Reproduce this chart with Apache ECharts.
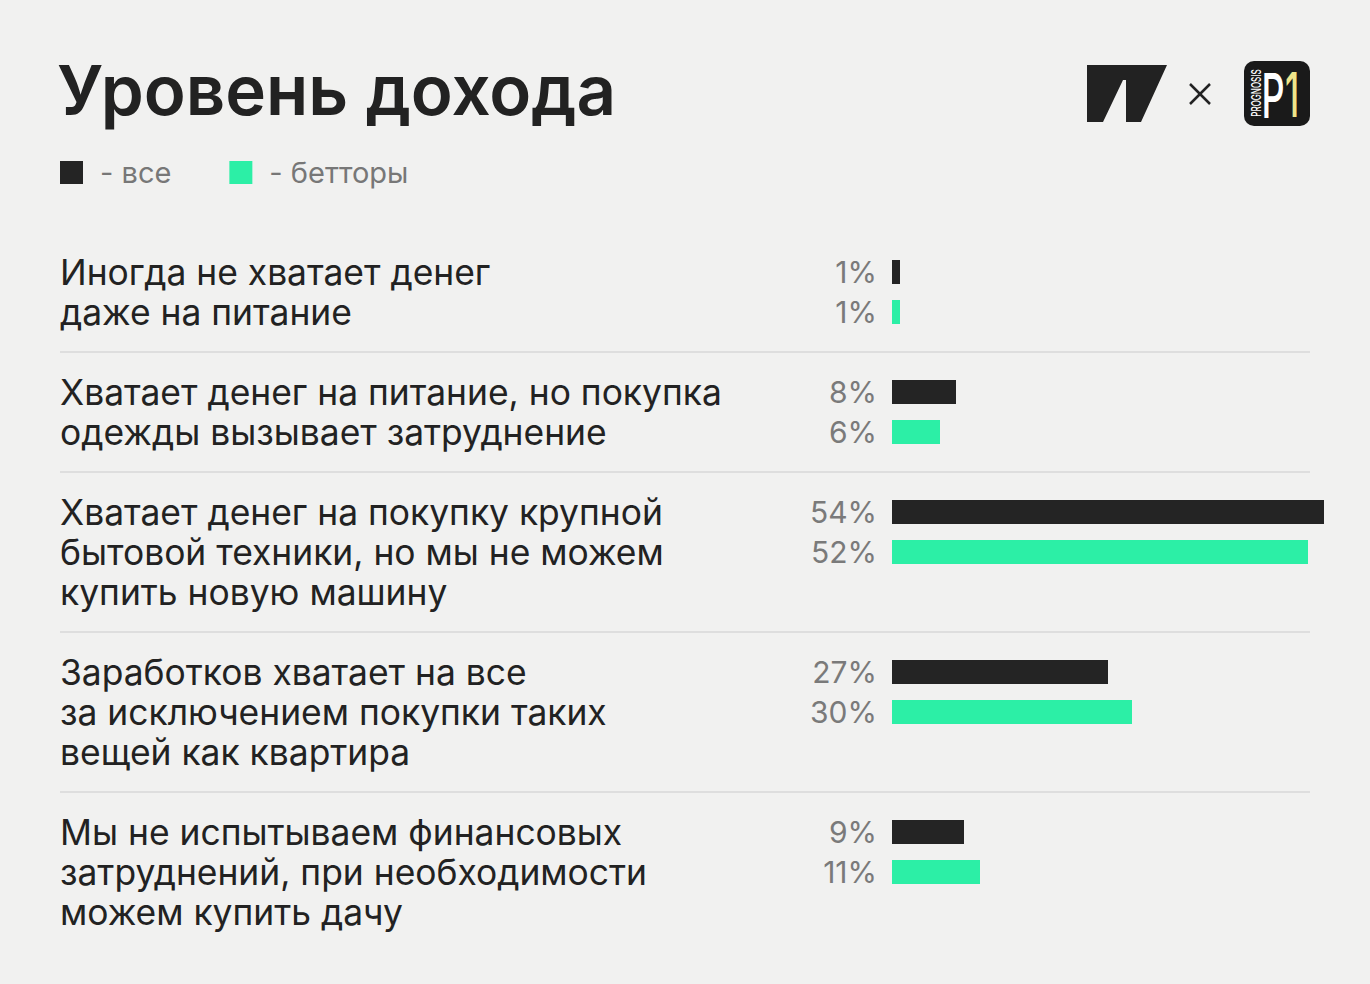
<!DOCTYPE html>
<html>
<head>
<meta charset="utf-8">
<style>
html,body{margin:0;padding:0;background:#f1f1f0;}
#chart{width:1370px;height:984px;}
</style>
<script src="https://cdn.jsdelivr.net/npm/echarts@6.0.0/dist/echarts.min.js"></script>
</head>
<body>
<div id="chart"></div>
<script>
const categories = [
  "Иногда не хватает денег\nдаже на питание",
  "Хватает денег на питание, но покупка\nодежды вызывает затруднение",
  "Хватает денег на покупку крупной\nбытовой техники, но мы не можем\nкупить новую машину",
  "Заработков хватает на все\nза исключением покупки таких\nвещей как квартира",
  "Мы не испытываем финансовых\nзатруднений, при необходимости\nможем купить дачу"
];
const allValues = [1, 8, 54, 27, 9];
const bettorValues = [1, 6, 52, 30, 11];
const seriesNames = ["все", "бетторы"];
const titleText = "Уровень дохода";

// layout: each group gets one 40px slot per text line (min 2) plus one slot for the separator
const blackSlot = [], sepSlots = [], labelAt = {};
let slot = 0;
categories.forEach((c, i) => {
  const lines = c.split("\n").length;
  blackSlot.push(slot);
  labelAt[slot] = i;
  const span = Math.max(lines, 2) + 1;
  if (i < categories.length - 1) sepSlots.push(slot + span - 1);
  slot += span;
});
const totalSlots = slot;
const slotNames = Array.from({length: totalSlots}, (_, k) => "s" + k);
const blackData = slotNames.map(() => "-");
const greenData = slotNames.map(() => "-");
blackSlot.forEach((s, i) => { blackData[s] = allValues[i]; greenData[s + 1] = bettorValues[i]; });

const chart = echarts.init(document.getElementById("chart"), null, {renderer: "svg"});
const FONT = "Inter";
const option = {
  backgroundColor: "#f1f1f0",
  animation: false,
  title: {
    text: titleText, left: 57, top: 55, padding: 0,
    textStyle: {fontFamily: FONT, fontSize: 69, fontWeight: 600, color: "#222222"}
  },
  legend: {
    data: seriesNames, left: 60, top: 158, padding: 0,
    itemWidth: 23, itemHeight: 23, itemGap: 58, icon: "rect",
    formatter: "- {name}",
    textStyle: {fontFamily: FONT, fontSize: 29, color: "#777777", padding: [0, 0, 0, 12]}
  },
  grid: {left: 60, width: 1250, top: 252, height: totalSlots * 40},
  xAxis: {type: "value", min: -104, max: 52.25, show: false, splitLine: {show: false}},
  yAxis: {
    type: "category", data: slotNames, inverse: true,
    axisLine: {show: false, onZero: false}, axisTick: {show: false}, splitLine: {show: false},
    axisLabel: {
      interval: 0, margin: 0, align: "left", verticalAlign: "middle",
      fontFamily: FONT, fontSize: 35.4, lineHeight: 40, color: "#222222",
      formatter: (v, idx) => {
        if (labelAt[idx] === undefined) return "";
        const t = categories[labelAt[idx]];
        const n = t.split("\n").length;
        return "\n".repeat(n - 1) + t;
      }
    }
  },
  series: [
    {
      name: seriesNames[0], type: "bar", data: blackData, barWidth: 24, barGap: "-100%",
      clip: false, itemStyle: {color: "#242424"},
      label: {show: true, position: "left", distance: 15, formatter: "{c}%",
        fontFamily: FONT, fontSize: 30, color: "#7a7a7a"},
      markLine: {
        silent: true, symbol: ["none", "none"], label: {show: false},
        lineStyle: {color: "#dedede", width: 2, type: "solid"},
        data: sepSlots.map(s => ({yAxis: "s" + s}))
      }
    },
    {
      name: seriesNames[1], type: "bar", data: greenData, barWidth: 24, barGap: "-100%",
      clip: false, itemStyle: {color: "#2cefa6"},
      label: {show: true, position: "left", distance: 15, formatter: "{c}%",
        fontFamily: FONT, fontSize: 30, color: "#7a7a7a"}
    }
  ],
  graphic: [
    {type: "polygon", shape: {points: [[1087,65],[1167,65],[1141,122],[1126,122],[1126,80],[1123,80],[1103,122],[1087,122]]},
      style: {fill: "#222222"}},
    {type: "line", shape: {x1: 1190, y1: 84, x2: 1210, y2: 104}, style: {stroke: "#222222", lineWidth: 2.5}},
    {type: "line", shape: {x1: 1210, y1: 84, x2: 1190, y2: 104}, style: {stroke: "#222222", lineWidth: 2.5}},
    {type: "rect", shape: {x: 1244, y: 61, width: 66, height: 65, r: 10}, style: {fill: "#1a1a1a"}},
    {type: "text", x: 1257, y: 93, rotation: Math.PI / 2, scaleX: 0.62,
      style: {text: "PROGNOSIS", fill: "#ffffff", fontFamily: FONT, fontSize: 13, fontWeight: 500,
        align: "center", verticalAlign: "middle"}},
    {type: "text", x: 1273, y: 95, scaleX: 0.58,
      style: {text: "P", fill: "#ffffff", fontFamily: FONT, fontSize: 62, fontWeight: 500,
        align: "center", verticalAlign: "middle"}},
    {type: "text", x: 1292, y: 95, scaleX: 0.55,
      style: {text: "1", fill: "#efe58a", fontFamily: FONT, fontSize: 62, fontWeight: 500,
        align: "center", verticalAlign: "middle"}}
  ]
};
chart.setOption(option);
</script>
</body>
</html>
